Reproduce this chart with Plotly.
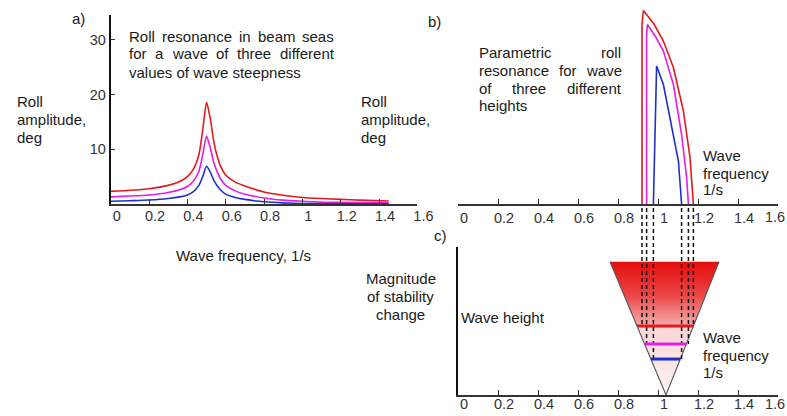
import plotly.graph_objects as go

W, H = 787, 416

# ---------------- data ----------------
# Panel a: roll resonance in beam seas (three wave steepness values)
freq_a = [0, 0.1, 0.2, 0.3, 0.36, 0.4, 0.43, 0.46, 0.48, 0.5, 0.52, 0.54, 0.57, 0.6,
          0.65, 0.7, 0.8, 0.9, 1.0, 1.1, 1.2, 1.3, 1.45]
roll_a_red = [2.3, 2.5, 2.8, 3.4, 4.1, 5.0, 6.3, 9.0, 13.5, 18.6, 15.5, 11.0, 7.2, 5.3,
              4.0, 3.3, 2.2, 1.6, 1.2, 1.0, 0.85, 0.7, 0.55]
roll_a_mag = [1.3, 1.45, 1.65, 2.1, 2.6, 3.2, 4.1, 6.0, 9.0, 12.4, 10.2, 7.3, 4.8, 3.4,
              2.4, 1.8, 1.1, 0.7, 0.5, 0.35, 0.3, 0.25, 0.2]
roll_a_blue = [0.5, 0.6, 0.73, 1.0, 1.3, 1.65, 2.2, 3.4, 5.0, 6.9, 5.8, 4.2, 2.7, 1.8,
               1.2, 0.85, 0.4, 0.2, 0.1, 0.05, 0.05, 0.05, 0.05]

# Panel b: parametric roll resonance (three wave heights)
freq_b_red = [0.92, 0.92, 0.927, 0.98, 1.027, 1.077, 1.127, 1.16, 1.177]
roll_b_red = [0, 36.0, 38.7, 36.0, 32.6, 27.3, 18.6, 9.3, 0]
freq_b_mag = [0.943, 0.943, 0.947, 0.99, 1.027, 1.077, 1.118, 1.143, 1.152]
roll_b_mag = [0, 33.5, 35.9, 33.3, 30.6, 23.9, 13.9, 5.3, 0]
freq_b_blue = [0.977, 0.993, 1.027, 1.068, 1.102, 1.118]
roll_b_blue = [0, 27.6, 23.9, 15.9, 8.6, 0]

# Panel c: stability-change region (wave height vs frequency)
tri_apex_freq = 1.04
tri_top_left = 0.76
tri_top_right = 1.305
tri_top_height = 0.9
wave_heights = [0.466, 0.345, 0.243]          # red, magenta, blue
band_low = [0.92, 0.943, 0.977]               # resonance band limits from panel b
band_high = [1.177, 1.152, 1.118]
dash_top = 1.264

tick_vals = [0, 0.2, 0.4, 0.6, 0.8, 1.0, 1.2, 1.4, 1.6]
tick_text = ["0", "0.2", "0.4", "0.6", "0.8", "1", "1.2", "1.4", "1.6"]
# right panels: the last label sits at the page edge, it is placed separately (right-aligned)
tick_text_right = tick_text[:-1] + [""]
ytick_vals = [10, 20, 30]
ytick_text = ["10", "20", "30"]

RED = "#e31a1c"
MAG = "#e41ee4"
BLUE = "#1f2fd0"
colors = [RED, MAG, BLUE]

FONT = "Liberation Sans, Arial, sans-serif"
TXT = "#1a1a1a"
TICK = "#333333"

fig = go.Figure()

# panel a
for ys, c in zip([roll_a_red, roll_a_mag, roll_a_blue], colors):
    fig.add_trace(go.Scatter(x=freq_a, y=ys, mode="lines",
                             line=dict(color=c, width=1.6, shape="spline", smoothing=0.6),
                             xaxis="x", yaxis="y", hoverinfo="skip", showlegend=False))

# panel b (drawn on an invisible taller axis with the same scale)
for xs, ys, c in zip([freq_b_red, freq_b_mag, freq_b_blue], [roll_b_red, roll_b_mag, roll_b_blue], colors):
    fig.add_trace(go.Scatter(x=xs, y=ys, mode="lines", line=dict(color=c, width=1.6),
                             xaxis="x2", yaxis="y5", hoverinfo="skip", showlegend=False))

# panel c triangle
fig.add_trace(go.Scatter(
    x=[tri_top_left, tri_top_right, tri_apex_freq, tri_top_left],
    y=[tri_top_height, tri_top_height, 0, tri_top_height],
    mode="lines", fill="toself", line=dict(width=0),
    fillgradient=dict(type="vertical", colorscale=[
        [0.0, "rgb(253,243,243)"], [0.5, "rgb(250,214,214)"], [0.53, "rgb(244,168,168)"],
        [0.75, "rgb(236,70,70)"], [1.0, "rgb(228,12,12)"]]),
    xaxis="x3", yaxis="y3", hoverinfo="skip", showlegend=False))
fig.add_trace(go.Scatter(
    x=[tri_top_left, tri_apex_freq, tri_top_right], y=[tri_top_height, 0, tri_top_height],
    mode="lines", line=dict(color="#555555", width=1.1),
    xaxis="x3", yaxis="y3", hoverinfo="skip", showlegend=False))

# dashed connectors from panel b down to panel c levels (taller invisible axis, same scale)
for lo, hi, h in zip(band_low, band_high, wave_heights):
    for f in (lo, hi):
        fig.add_trace(go.Scatter(x=[f, f], y=[dash_top, h], mode="lines",
                                 line=dict(color="#111111", width=1.5, dash="4px,3px"),
                                 xaxis="x3", yaxis="y4", hoverinfo="skip", showlegend=False))

# horizontal wave height levels
for h, c in zip(wave_heights, colors):
    frac = h / tri_top_height
    xl = tri_apex_freq - (tri_apex_freq - tri_top_left) * frac
    xr = tri_apex_freq + (tri_top_right - tri_apex_freq) * frac
    fig.add_trace(go.Scatter(x=[xl, xr], y=[h, h], mode="lines", line=dict(color=c, width=3),
                             xaxis="x3", yaxis="y4", hoverinfo="skip", showlegend=False))


def px_x(p):
    return p / W


def px_y(p):
    return 1 - p / H


axis_common = dict(showgrid=False, zeroline=False, showline=True, linecolor="#333333",
                   ticks="inside", tickcolor="#333333", automargin=False,
                   tickfont=dict(family=FONT, size=14.5, color=TICK))

xa = dict(axis_common, range=[0, 1.6], tickvals=tick_vals, ticktext=tick_text, ticklen=5,
          linewidth=1.5, ticklabelshift=6, ticklabeloverflow="allow")

C_BOT, C_TOP = 395, 247
c_scale = C_BOT - C_TOP  # px per unit of wave height

fig.update_layout(
    width=W, height=H, margin=dict(l=0, r=0, t=0, b=0, pad=0, autoexpand=False),
    paper_bgcolor="white", plot_bgcolor="rgba(0,0,0,0)", showlegend=False,
    xaxis=dict(xa, domain=[px_x(110.7), px_x(417.4)], anchor="y", ticklabelstandoff=-2),
    yaxis=dict(axis_common, domain=[px_y(204), px_y(15)], range=[0, 34.55], anchor="x",
               tickvals=ytick_vals, ticktext=ytick_text, ticklen=4, linewidth=2, linecolor="#111111"),
    xaxis2=dict(xa, domain=[px_x(458), px_x(778)], anchor="y2", ticktext=tick_text_right),
    yaxis2=dict(axis_common, domain=[px_y(204), px_y(15)], range=[0, 37.8], anchor="x2",
                tickvals=ytick_vals, ticktext=ytick_text, ticklen=4, linewidth=2, linecolor="#111111"),
    yaxis5=dict(domain=[px_y(204), px_y(4)], range=[0, 40], anchor="x2", visible=False, automargin=False),
    xaxis3=dict(xa, domain=[px_x(458), px_x(778)], anchor="y3", ticklabelstandoff=-5,
                ticktext=tick_text_right),
    yaxis3=dict(axis_common, domain=[px_y(C_BOT), px_y(C_TOP)], range=[0, 1], anchor="x3",
                showticklabels=False, ticks="", linewidth=2, linecolor="#111111"),
    yaxis4=dict(domain=[px_y(C_BOT), px_y(200)], range=[0, (C_BOT - 200) / c_scale],
                anchor="x3", visible=False, automargin=False),
)

# ---------------- text ----------------
CW = {' ': 278, 'a': 556, 'b': 556, 'c': 500, 'd': 556, 'e': 556, 'f': 278, 'g': 556, 'h': 556,
      'i': 222, 'j': 222, 'k': 500, 'l': 222, 'm': 833, 'n': 556, 'o': 556, 'p': 556, 'q': 556,
      'r': 333, 's': 500, 't': 278, 'u': 556, 'v': 500, 'w': 722, 'x': 500, 'y': 500, 'z': 500,
      'P': 667, 'R': 722, ',': 278}
FS = 15

annotations = []


def txt(s, x, y, anchor="left", size=FS):
    annotations.append(dict(text=s, x=px_x(x), y=px_y(y), xref="paper", yref="paper",
                            xanchor=anchor, yanchor="middle", showarrow=False, borderpad=0,
                            font=dict(family=FONT, size=size, color=TXT)))


def width(word, size=FS):
    return sum(CW.get(ch, 556) for ch in word) * size / 1000.0


def justify(line, x0, x1, y):
    words = line.split()
    total = sum(width(w) for w in words)
    gap = (x1 - x0 - total) / (len(words) - 1)
    x = x0
    for w in words:
        txt(w, x, y)
        x += width(w) + gap


# last tick label of the right-hand panels, right-aligned at its tick so it stays on the page
for xref, ypx in (("x2", 217), ("x3", 404)):
    annotations.append(dict(text=tick_text[-1], x=tick_vals[-1], xref=xref, y=px_y(ypx), yref="paper",
                            xanchor="right", xshift=8, yanchor="middle", showarrow=False, borderpad=0,
                            font=dict(family=FONT, size=14.5, color=TICK)))

txt("a)", 71, 19)
txt("b)", 427, 21)
txt("c)", 433, 235)

justify("Roll resonance in beam seas", 128, 333, 36)
justify("for a wave of three different", 128, 333, 54)
txt("values of wave steepness", 128, 72)

for xx in (16, 360):
    txt("Roll", xx, 101)
    txt("amplitude,", xx, 119)
    txt("deg", xx, 137)

justify("Parametric roll", 478, 620, 52)
justify("resonance for wave", 478, 620, 70)
justify("of three different", 478, 620, 88)
txt("heights", 478, 105)

for yy in ((155, 173, 190), (337, 355, 372)):
    txt("Wave", 702, yy[0])
    txt("frequency", 702, yy[1])
    txt("1/s", 702, yy[2])

txt("Wave frequency, 1/s", 243, 255, anchor="center")
txt("Magnitude", 401, 278, anchor="center")
txt("of stability", 401, 296, anchor="center")
txt("change", 401, 314, anchor="center")
txt("Wave height", 460, 317)

fig.update_layout(annotations=annotations)

fig.write_html("out.html")
